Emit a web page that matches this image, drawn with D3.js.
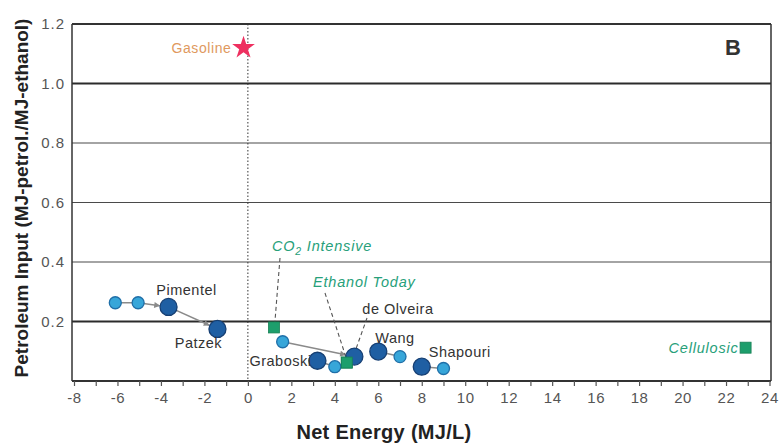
<!DOCTYPE html>
<html>
<head>
<meta charset="utf-8">
<script src="https://cdn.jsdelivr.net/npm/d3@7"></script>
<style>
  html, body { margin: 0; padding: 0; background: #fff; }
  svg { display: block; font-family: "Liberation Sans", Arial, sans-serif; }
</style>
</head>
<body>
<svg id="chart" width="783" height="443"></svg>
<script>
// Axis ticks
const xTicks = [-8, -6, -4, -2, 0, 2, 4, 6, 8, 10, 12, 14, 16, 18, 20, 22, 24];
const yTicks = [0.2, 0.4, 0.6, 0.8, 1.0, 1.2];

// Studies as published (light) and adjusted (dark)
const reportedPts = [
  { x: -6.1, y: 0.263 },
  { x: -5.05, y: 0.263 },
  { x: 1.6, y: 0.132 },
  { x: 4.0, y: 0.048 },
  { x: 7.0, y: 0.082 },
  { x: 9.0, y: 0.042 }
];
const studyNames = ["Pimentel", "Patzek", "Graboski", "de Olveira", "Wang", "Shapouri"];
const studyX = [-3.65, -1.4, 3.2, 4.9, 6.0, 8.0];
const studyY = [0.249, 0.175, 0.068, 0.082, 0.099, 0.048];

// Links between points
const links = [
  { x1: -6.1, y1: 0.263, x2: -5.05, y2: 0.263, arrow: false },
  { x1: -5.05, y1: 0.263, x2: -3.65, y2: 0.249, arrow: true },
  { x1: -3.65, y1: 0.249, x2: -1.4, y2: 0.175, arrow: true },
  { x1: 1.6, y1: 0.132, x2: 4.9, y2: 0.082, arrow: true },
  { x1: 3.2, y1: 0.068, x2: 4.0, y2: 0.048, arrow: false },
  { x1: 6.0, y1: 0.099, x2: 7.0, y2: 0.082, arrow: false },
  { x1: 8.0, y1: 0.048, x2: 9.0, y2: 0.042, arrow: false }
];

// Scenarios
const scenarioNames = ["CO2 Intensive", "Ethanol Today", "Cellulosic"];
const scenarioX = [1.2, 4.55, 22.9];
const scenarioY = [0.18, 0.062, 0.112];

// Gasoline reference
const gasoline = { x: -0.2, y: 1.12 };

const svg = d3.select("#chart");
const plot = { left: 72, right: 771, top: 24, bottom: 381 };

const x = d3.scaleLinear().domain([-8, 24]).range([74, 769.5]);
const y = d3.scaleLinear().domain([0, 1.2]).range([plot.bottom, plot.top]);

const darkBlue = "#1f5fa3";
const darkBlueStroke = "#163f73";
const lightBlue = "#37a6d9";
const lightBlueStroke = "#1f6fa8";
const green = "#1d9e6c";
const greenText = "#27a07a";
const labelFont = { size: 14.5, spacing: 0.5 };

// Horizontal gridlines
const strong = [0.2, 1.0];
svg.append("g").selectAll("line")
  .data(yTicks.filter(d => d < 1.2))
  .join("line")
  .attr("x1", plot.left).attr("x2", plot.right)
  .attr("y1", d => y(d)).attr("y2", d => y(d))
  .attr("stroke", d => strong.includes(+d.toFixed(1)) ? "#2b2b2b" : "#4a4a4a")
  .attr("stroke-width", d => strong.includes(+d.toFixed(1)) ? 2 : 1.2);

// Frame
svg.append("line").attr("x1", plot.left).attr("x2", plot.right)
  .attr("y1", plot.top).attr("y2", plot.top)
  .attr("stroke", "#333").attr("stroke-width", 2);
svg.append("line").attr("x1", plot.right).attr("x2", plot.right)
  .attr("y1", plot.top).attr("y2", plot.bottom)
  .attr("stroke", "#333").attr("stroke-width", 1.5);
svg.append("line").attr("x1", plot.left).attr("x2", plot.left)
  .attr("y1", plot.top).attr("y2", plot.bottom)
  .attr("stroke", "#333").attr("stroke-width", 1.5);

// Zero net-energy line
svg.append("line")
  .attr("x1", x(0)).attr("x2", x(0))
  .attr("y1", plot.top).attr("y2", plot.bottom)
  .attr("stroke", "#333").attr("stroke-width", 1)
  .attr("stroke-dasharray", "1.5,2");

// X axis
const xAxis = d3.axisBottom(x)
  .tickValues(d3.range(-8, 25, 1))
  .tickSize(5)
  .tickFormat(d => xTicks.includes(d) ? d : "");
const gx = svg.append("g").attr("transform", `translate(0,${plot.bottom})`).call(xAxis);
gx.select(".domain").attr("stroke", "#333").attr("stroke-width", 2)
  .attr("d", `M${plot.left},0H${plot.right}`);
gx.selectAll(".tick line").attr("stroke", "#555").attr("stroke-width", 1.2);
gx.selectAll(".tick text")
  .attr("y", 11).attr("dy", "0.71em")
  .attr("fill", "#555").attr("font-size", 15)
  .attr("letter-spacing", 0.6)
  .attr("font-family", "Liberation Sans, Arial, sans-serif");

// Y axis labels
const yAxis = d3.axisLeft(y).tickValues(yTicks).tickSize(0).tickFormat(d3.format(".1f"));
const gy = svg.append("g").attr("transform", `translate(${plot.left},0)`).call(yAxis);
gy.select(".domain").remove();
gy.selectAll(".tick text")
  .attr("x", -7)
  .attr("fill", "#555").attr("font-size", 15)
  .attr("letter-spacing", 1)
  .attr("font-family", "Liberation Sans, Arial, sans-serif");

// Axis titles
svg.append("text")
  .attr("x", 384).attr("y", 439)
  .attr("text-anchor", "middle")
  .attr("font-size", 20).attr("font-weight", "bold").attr("fill", "#222")
  .attr("letter-spacing", 0.3)
  .text("Net Energy (MJ/L)");
svg.append("text")
  .attr("transform", "translate(28,198) rotate(-90)")
  .attr("text-anchor", "middle")
  .attr("font-size", 19).attr("font-weight", "bold").attr("fill", "#222")
  .text("Petroleum Input (MJ-petrol./MJ-ethanol)");

// Panel letter
svg.append("text")
  .attr("x", 733).attr("y", 55)
  .attr("text-anchor", "middle")
  .attr("font-size", 22).attr("font-weight", "bold").attr("fill", "#333")
  .text("B");

// Arrow marker
svg.append("defs").append("marker")
  .attr("id", "arrowhead")
  .attr("viewBox", "0 0 10 10")
  .attr("refX", 9).attr("refY", 5)
  .attr("markerWidth", 7).attr("markerHeight", 6)
  .attr("markerUnits", "userSpaceOnUse")
  .attr("orient", "auto")
  .append("path").attr("d", "M0,0L10,5L0,10z").attr("fill", "#8a8a8a");

// Links (trimmed so arrowheads land on the circle edge)
svg.append("g").selectAll("line")
  .data(links)
  .join("line")
  .each(function(d) {
    const ax = x(d.x1), ay = y(d.y1), bx = x(d.x2), by = y(d.y2);
    const len = Math.hypot(bx - ax, by - ay);
    const trimEnd = d.arrow ? 9 : 0;
    d3.select(this)
      .attr("x1", ax).attr("y1", ay)
      .attr("x2", bx - (bx - ax) * trimEnd / len)
      .attr("y2", by - (by - ay) * trimEnd / len);
  })
  .attr("stroke", "#8a8a8a").attr("stroke-width", 1.5)
  .attr("marker-end", d => d.arrow ? "url(#arrowhead)" : null);

// Dashed leader lines from labels to their marks
const leaders = [
  { from: [280, 258], to: [x(scenarioX[0]) + 1, y(scenarioY[0]) - 6] },
  { from: [325, 293], to: [x(scenarioX[1]) - 1, y(scenarioY[1]) - 6] },
  { from: [367, 318], to: [x(studyX[3]) + 1, y(studyY[3]) - 6] }
];
svg.append("g").selectAll("line")
  .data(leaders)
  .join("line")
  .attr("x1", d => d.from[0]).attr("y1", d => d.from[1])
  .attr("x2", d => d.to[0]).attr("y2", d => d.to[1])
  .attr("stroke", "#555").attr("stroke-width", 1.1)
  .attr("stroke-dasharray", "4,3");

// Scenario squares
svg.append("g").selectAll("rect")
  .data(scenarioX.map((d, i) => ({ x: d, y: scenarioY[i] })))
  .join("rect")
  .attr("x", d => x(d.x) - 5.5).attr("y", d => y(d.y) - 5.5)
  .attr("width", 11).attr("height", 11)
  .attr("fill", green).attr("stroke", "#178055").attr("stroke-width", 0.8);

// Published values
svg.append("g").selectAll("circle")
  .data(reportedPts)
  .join("circle")
  .attr("cx", d => x(d.x)).attr("cy", d => y(d.y)).attr("r", 6)
  .attr("fill", lightBlue).attr("stroke", lightBlueStroke).attr("stroke-width", 1.3);

// Adjusted values
const studies = studyNames.map((n, i) => ({ name: n, x: studyX[i], y: studyY[i] }));
svg.append("g").selectAll("circle")
  .data(studies)
  .join("circle")
  .attr("cx", d => x(d.x)).attr("cy", d => y(d.y)).attr("r", 8.5)
  .attr("fill", darkBlue).attr("stroke", darkBlueStroke).attr("stroke-width", 1.3);

// Ethanol Today square sits on top of the cluster
svg.append("rect")
  .attr("x", x(scenarioX[1]) - 5.5).attr("y", y(scenarioY[1]) - 5.5)
  .attr("width", 11).attr("height", 11)
  .attr("fill", green).attr("stroke", "#178055").attr("stroke-width", 0.8);

// Study labels
const studyLabelPos = {
  "Pimentel": { dx: 18, dy: -12, anchor: "middle" },
  "Patzek": { dx: -19, dy: 19, anchor: "middle" },
  "Graboski": { dx: -6, dy: 5, anchor: "end" },
  "de Olveira": { dx: 8, dy: -43, anchor: "start" },
  "Wang": { dx: -3, dy: -9, anchor: "start" },
  "Shapouri": { dx: 7, dy: -10, anchor: "start" }
};
svg.append("g").selectAll("text")
  .data(studies)
  .join("text")
  .attr("x", d => x(d.x) + studyLabelPos[d.name].dx)
  .attr("y", d => y(d.y) + studyLabelPos[d.name].dy)
  .attr("text-anchor", d => studyLabelPos[d.name].anchor)
  .attr("font-size", labelFont.size).attr("letter-spacing", labelFont.spacing)
  .attr("fill", "#333")
  .text(d => d.name);

// Scenario labels
const co2 = svg.append("text")
  .attr("x", 272).attr("y", 251)
  .attr("font-size", labelFont.size).attr("letter-spacing", 0.8)
  .attr("font-style", "italic").attr("fill", greenText);
co2.append("tspan").text("CO");
co2.append("tspan").attr("font-size", 10.5).attr("dy", 4).text("2");
co2.append("tspan").attr("dy", -4).text(" Intensive");

svg.append("text")
  .attr("x", 313).attr("y", 287)
  .attr("font-size", labelFont.size).attr("letter-spacing", 0.8)
  .attr("font-style", "italic").attr("fill", greenText)
  .text(scenarioNames[1]);

svg.append("text")
  .attr("x", x(scenarioX[2]) - 7).attr("y", y(scenarioY[2]) + 5)
  .attr("text-anchor", "end")
  .attr("font-size", labelFont.size).attr("letter-spacing", 0.8)
  .attr("font-style", "italic").attr("fill", greenText)
  .text(scenarioNames[2]);

// Gasoline star
const star = d3.symbol().type(d3.symbolStar).size(160);
svg.append("path")
  .attr("d", star())
  .attr("transform", `translate(${x(gasoline.x)},${y(gasoline.y)})`)
  .attr("fill", "#ee3060");
svg.append("text")
  .attr("x", x(gasoline.x) - 12).attr("y", y(gasoline.y) + 5)
  .attr("text-anchor", "end")
  .attr("font-size", 14).attr("letter-spacing", 0.6).attr("fill", "#e0995e")
  .text("Gasoline");
</script>
</body>
</html>
